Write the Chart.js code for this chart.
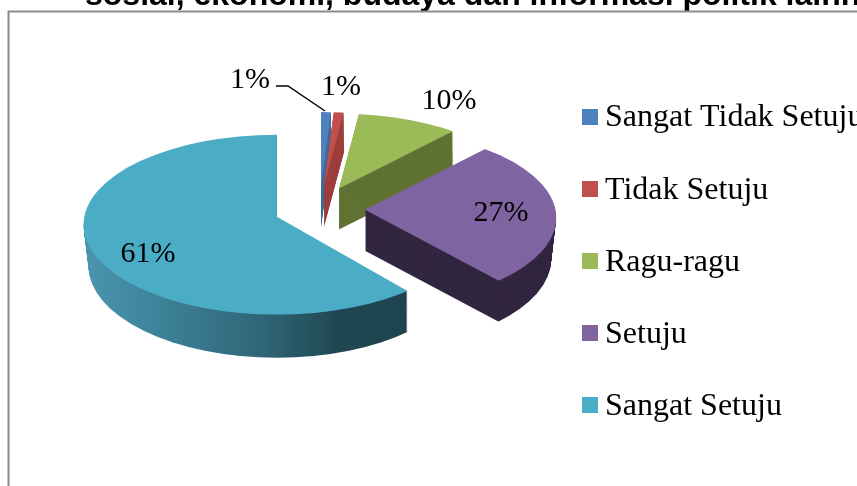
<!DOCTYPE html>
<html>
  <head>
    <meta charset="utf-8">
    <style type="text/css">
      body { margin: 0; background: #fff; }
      .chart-container { width: 857px; height: 486px; }
    </style>
  </head>
  <body>
    <script src="https://cdn.jsdelivr.net/npm/chart.js@4/dist/chart.umd.js"></script>

    <div class="chart-container">
      <canvas id="myChart" width="857" height="486"></canvas>
    </div>

    <script>
      /* datas */
      const categories = ["Sangat Tidak Setuju", "Tidak Setuju", "Ragu-ragu", "Setuju", "Sangat Setuju"];
      const values = [1, 1, 10, 27, 61];
      const topColors = ["#4f81bd", "#c0504d", "#9bbb59", "#8064a2", "#4bacc6"];
      const wallColors = ["#3f6a9c", "#9c3f3c", "#5f7233", "#322640", null];
      const titleText = "sosial, ekonomi, budaya dan informasi politik lainnya";

      /* where the percent labels sit */
      const labelSpots = [[250, 80], [341, 87], [449, 101], [501, 213], [148, 254]];

      /* fake 3d: tilt, explode, depth */
      const center = { x: 319.6, y: 209 };
      const explode = 45.4;
      const radiusX = 191;
      const radiusY = [90, 90, 90, 87, 90];
      const skew = [0, 0, 0, -0.02, 0];   // purple leans a bit, perspective
      const depth = 41;

      // draws one slice through its own arc element, squashed and clipped to an ellipse
      function drawSlice(ctx, arc, i, fill, d) {
        const mid = (arc.startAngle + arc.endAngle) / 2;
        const ax = center.x + Math.cos(mid) * explode;
        const ay = center.y + Math.sin(mid) * explode * 0.5;
        const dy = ay - center.y;
        const R = arc.outerRadius;
        const over = 1.25;

        ctx.save();
        ctx.beginPath();
        ctx.ellipse(ax, ay + 8 + d, radiusX + 0.3 * dy - d * 0.12, 88 + 0.25 * dy + d * 0.05, 0, 0, Math.PI * 2);
        ctx.clip();
        ctx.translate(ax, ay + d);
        ctx.transform(1, skew[i], 0, 1, 0, 0);
        ctx.scale(radiusX * over / R, radiusY[i] * over / R);
        ctx.translate(-arc.x, -arc.y);

        const keep = arc.options;
        arc.options = Object.assign({}, keep, { backgroundColor: fill, borderWidth: 0 });
        arc.draw(ctx);
        arc.options = keep;
        ctx.restore();
      }

      // the big slice has a shaded wall, screen x mapped back to arc space
      function tealWall(ctx, arc) {
        const mid = (arc.startAngle + arc.endAngle) / 2;
        const ax = center.x + Math.cos(mid) * explode;
        const k = arc.outerRadius / (radiusX * 1.25);
        const g = ctx.createLinearGradient(arc.x + (85 - ax) * k, 0, arc.x + (404 - ax) * k, 0);
        g.addColorStop(0, "#4a95ad");
        g.addColorStop(0.2, "#3f859c");
        g.addColorStop(0.55, "#2f6678");
        g.addColorStop(0.8, "#1f4651");
        g.addColorStop(1, "#1e444f");
        return g;
      }

      const pie3d = {
        id: "pie3d",
        beforeDraw(chart) {
          const ctx = chart.ctx;
          ctx.save();
          ctx.fillStyle = "#fff";
          ctx.fillRect(0, 0, chart.width, chart.height);
          // title, cut by the top of the picture
          ctx.fillStyle = "#000";
          ctx.font = "bold 32px 'Liberation Sans'";
          ctx.textBaseline = "alphabetic";
          ctx.fillText(titleText, 85, 5);
          // frame
          ctx.strokeStyle = "#8c8c8c";
          ctx.lineWidth = 2;
          ctx.beginPath();
          ctx.moveTo(8.5, 486);
          ctx.lineTo(8.5, 11.5);
          ctx.lineTo(857, 11.5);
          ctx.stroke();
          ctx.restore();
        },
        beforeDatasetDraw(chart, args) {
          const ctx = chart.ctx;
          args.meta.data.forEach((arc, i) => {
            const wall = wallColors[i] || tealWall(ctx, arc);
            for (let d = depth; d > 0; d--) {
              drawSlice(ctx, arc, i, wall, d);
            }
            drawSlice(ctx, arc, i, topColors[i], 0);
          });
          return false;
        },
        afterDraw(chart) {
          const ctx = chart.ctx;
          ctx.save();
          // percent labels
          ctx.fillStyle = "#000";
          ctx.font = "30px 'Liberation Serif'";
          ctx.textAlign = "center";
          ctx.textBaseline = "middle";
          values.forEach((v, i) => {
            ctx.fillText(v + "%", labelSpots[i][0], labelSpots[i][1]);
          });
          // leader line
          ctx.strokeStyle = "#000";
          ctx.lineWidth = 1.5;
          ctx.beginPath();
          ctx.moveTo(276, 86);
          ctx.lineTo(288, 86);
          ctx.lineTo(325, 111);
          ctx.stroke();
          // legend
          ctx.font = "32px 'Liberation Serif'";
          ctx.textAlign = "left";
          categories.forEach((name, i) => {
            const y = 116.5 + i * 72.2;
            ctx.fillStyle = topColors[i];
            ctx.fillRect(582, Math.round(y - 8), 16, 16);
            ctx.fillStyle = "#000";
            ctx.fillText(name, 605, y + 1.5);
          });
          ctx.restore();
        }
      };

      /* create our chart */
      const myChart = new Chart("myChart", {
        type: "pie",
        data: {
          labels: categories,
          datasets: [{ data: values, backgroundColor: topColors, borderWidth: 0 }]
        },
        options: {
          responsive: false,
          animation: false,
          plugins: {
            legend: { display: false },
            tooltip: { enabled: false }
          }
        },
        plugins: [pie3d]
      });
    </script>
  </body>
</html>
